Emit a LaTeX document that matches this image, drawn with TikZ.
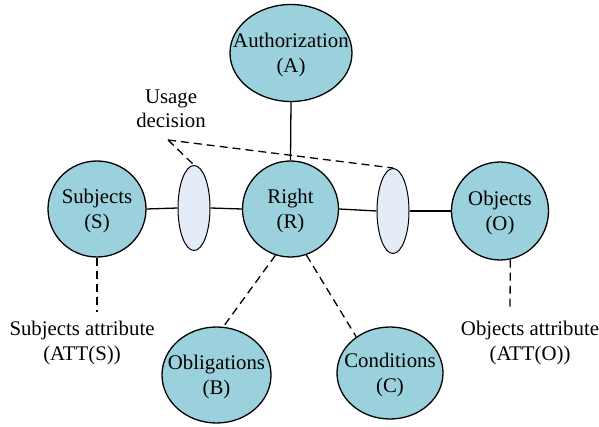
\documentclass[tikz,border=0pt]{standalone}
\usepackage{fontspec}
\setmainfont{Liberation Serif}
\usetikzlibrary{shapes.geometric}
\definecolor{teal}{RGB}{155,209,221}
\definecolor{paleblue}{RGB}{228,236,247}
\tikzset{
  txt/.style={align=center, inner sep=0pt, font=\fontsize{20.8}{24.5}\selectfont},
  ctxt/.style={txt, yshift=-2pt},
  bignode/.style={ellipse, draw=black, line width=1.3pt, fill=teal, inner sep=0pt},
  smallell/.style={ellipse, draw=black, line width=1pt, fill=paleblue, inner sep=0pt,
    minimum width=32pt, minimum height=85pt},
  solidline/.style={line width=1.3pt},
  dashline/.style={line width=1.3pt, dash pattern=on 8pt off 5pt}
}
\begin{document}
\begin{tikzpicture}[x=1pt,y=-1pt]
\useasboundingbox (0,0) rectangle (599,427);
% main nodes (ellipse outlines with centred text labels)
\node[bignode, minimum width=122pt, minimum height=97pt,
  label={[ctxt]center:Authorization\\(A)}] (A) at (291,53) {};
\node[bignode, minimum width=98pt, minimum height=96pt,
  label={[ctxt]center:Subjects\\(S)}] (S) at (97,209) {};
\node[bignode, minimum width=96pt, minimum height=96pt,
  label={[ctxt]center:Right\\(R)}] (R) at (290.5,209) {};
\node[bignode, minimum width=97pt, minimum height=98pt,
  label={[ctxt]center:Objects\\(O)}] (O) at (500,211) {};
\node[bignode, minimum width=109pt, minimum height=96pt,
  label={[ctxt]center:Obligations\\(B)}] (B) at (216.5,375) {};
\node[bignode, minimum width=106pt, minimum height=92pt,
  label={[ctxt]center:Conditions\\(C)}] (C) at (390,373) {};
\node[smallell] (E1) at (194,208) {};
\node[smallell] (E2) at (393,211) {};
% labels
\node[txt] (UD) at (171,109) {Usage\\decision};
\node[txt] (SA) at (82,343) {Subjects attribute\\(ATT(S))};
\node[txt] (OA) at (530,343) {Objects attribute\\(ATT(O))};
\coordinate (ud) at (168,140);
\coordinate (sa) at (97,312);
\coordinate (oa) at (510,310);
% solid connectors
\draw[solidline] (A.south) -- (R.north);
\draw[solidline] (S.east) -- (E1.west);
\draw[solidline] (E1.east) -- (R.west);
\draw[solidline] (R.east) -- (E2.west);
\draw[solidline] (E2.east) -- (O.west);
% dashed connectors
\draw[dashline] (ud) -- (E1.north);
\draw[dashline] (ud) -- (E2.north);
\draw[dashline] (S.south) -- (sa);
\draw[dashline] (O.-78) -- (oa);
\draw[dashline] (R.252) -- (B.82);
\draw[dashline] (R.-71) -- (C.133);
\end{tikzpicture}
\end{document}
